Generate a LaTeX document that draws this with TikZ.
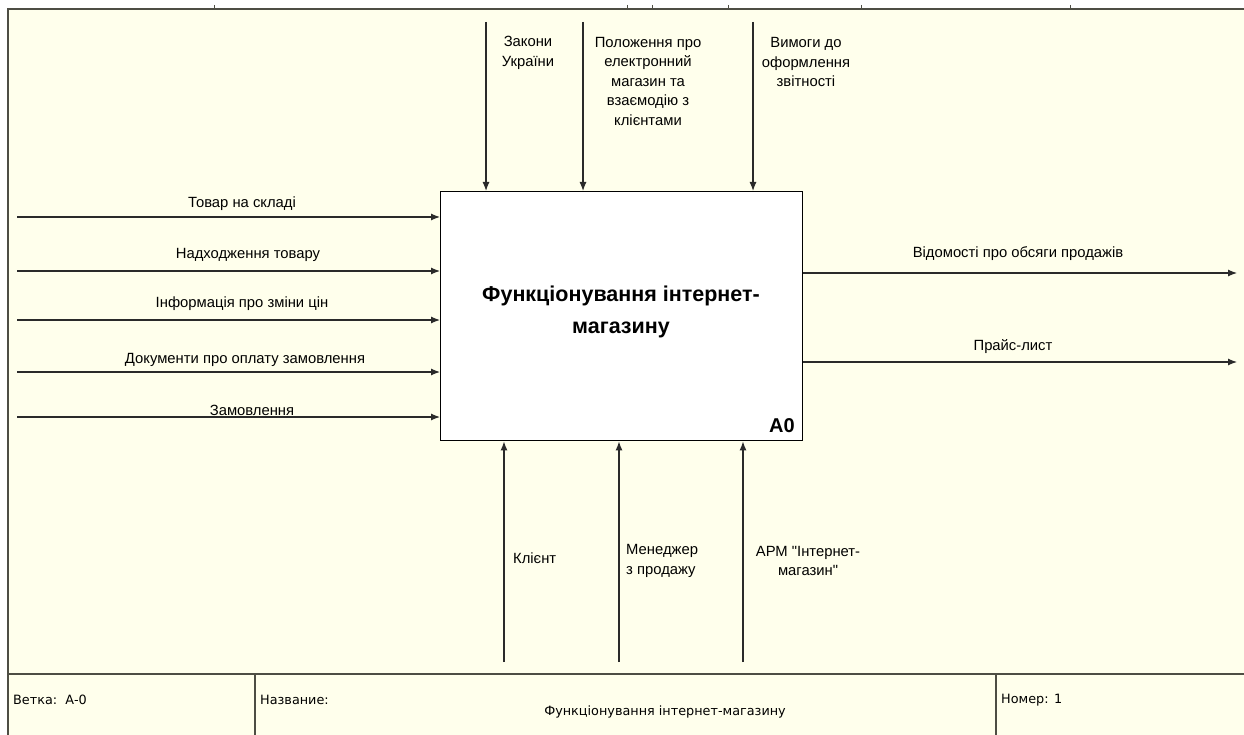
\documentclass[tikz,border=0pt]{standalone}
\usepackage{fontspec}
\setmainfont{Liberation Sans}
\newfontfamily\plainsans{Liberation Sans}[Ligatures=TeXOff]
\newfontfamily\footfont{DejaVu Sans}
\usetikzlibrary{arrows.meta}
\definecolor{bgc}{HTML}{FFFFEC}
\definecolor{framec}{HTML}{4E4E44}
\definecolor{arrc}{HTML}{2A2A2A}
\begin{document}
\begin{tikzpicture}[x=1pt,y=-1pt,
  lbl/.style={font=\fontsize{14.8}{19.5}\selectfont, inner sep=0pt, align=center},
  footlbl/.style={font=\footfont\fontsize{12.8}{15}\selectfont, inner sep=0pt, anchor=west},
  flow/.style={draw=arrc, line width=1.2pt, -{Latex[length=9pt,width=7pt]}},
  frameln/.style={draw=framec, line width=1.6pt},
  tick/.style={draw=framec, line width=0.8pt}]
\useasboundingbox (0,0) rectangle (1244,735);
% background
\fill[bgc] (8,9) rectangle (1244,735);
% frame
\draw[frameln] (8,735) -- (8,9) -- (1244,9);
\foreach \tx in {214,627,652,728,861,1070} \draw[tick] (\tx,5) -- (\tx,9);
% footer
\draw[frameln, line width=1.2pt] (8,674) -- (1244,674);
\draw[frameln, line width=1.2pt] (255,674) -- (255,735);
\draw[frameln, line width=1.2pt] (996,674) -- (996,735);
\node[footlbl] (fb) at (13,700) {Ветка:\ \ А-0};
\node[footlbl] (fn) at (260,700) {Название:};
\node[font=\footfont\fontsize{12.8}{15}\selectfont, inner sep=0pt] (ft) at (665,712) {Функціонування інтернет-магазину};
\node[footlbl] (fm) at (1001,700) {Номер: 1};
% main box
\node[draw=black, line width=1.4pt, fill=white, minimum width=362pt, minimum height=249pt, inner sep=0pt, anchor=north west] (box) at (440,191) {};
\node[font=\bfseries\fontsize{21.5}{32}\selectfont, align=center, inner sep=0pt] (title) at (621,312) {Функціонування інтернет-\\магазину};
\node[font=\bfseries\fontsize{20}{22}\selectfont, inner sep=0pt, anchor=base east] (num) at (795,432) {A0};
% inputs
\coordinate (i1) at (17,217);
\coordinate (i2) at (17,271);
\coordinate (i3) at (17,320);
\coordinate (i4) at (17,372);
\coordinate (i5) at (17,417);
\foreach \c in {i1,i2,i3,i4,i5} \draw[flow] (\c) -- (\c -| box.west);
\node[lbl] (li1) at (242,204) {Товар на складі};
\node[lbl] (li2) at (248,255) {Надходження товару};
\node[lbl] (li3) at (242,304) {Інформація про зміни цін};
\node[lbl] (li4) at (245,360) {Документи про оплату замовлення};
\node[lbl] (li5) at (252,410) {Замовлення};
% controls
\coordinate (c1) at (486,22);
\coordinate (c2) at (583,22);
\coordinate (c3) at (753,22);
\foreach \c in {c1,c2,c3} \draw[flow] (\c) -- (\c |- box.north);
\node[lbl] (lc1) at (528,53) {Закони\\України};
\node[lbl] (lc2) at (648,81) {Положення про\\електронний\\магазин та\\взаємодію з\\клієнтами};
\node[lbl] (lc3) at (806,62) {Вимоги до\\оформлення\\звітності};
% outputs
\coordinate (o1) at (1237,273);
\coordinate (o2) at (1237,362);
\foreach \c in {o1,o2} \draw[flow] (\c -| box.east) -- (\c);
\node[lbl] (lo1) at (1018,254) {Відомості про обсяги продажів};
\node[lbl] (lo2) at (1013,347) {Прайс-лист};
% mechanisms
\coordinate (m1) at (504,662);
\coordinate (m2) at (619,662);
\coordinate (m3) at (743,662);
\foreach \c in {m1,m2,m3} \draw[flow] (\c) -- (\c |- box.south);
\node[lbl, anchor=west] (lm1) at (513,558) {Клієнт};
\node[lbl, anchor=west, align=left] (lm2) at (626,561) {Менеджер\\з продажу};
\node[lbl, font=\plainsans\fontsize{14.8}{19.5}\selectfont] (lm3) at (808,561) {АРМ "Інтернет-\\магазин"};
\end{tikzpicture}
\end{document}
